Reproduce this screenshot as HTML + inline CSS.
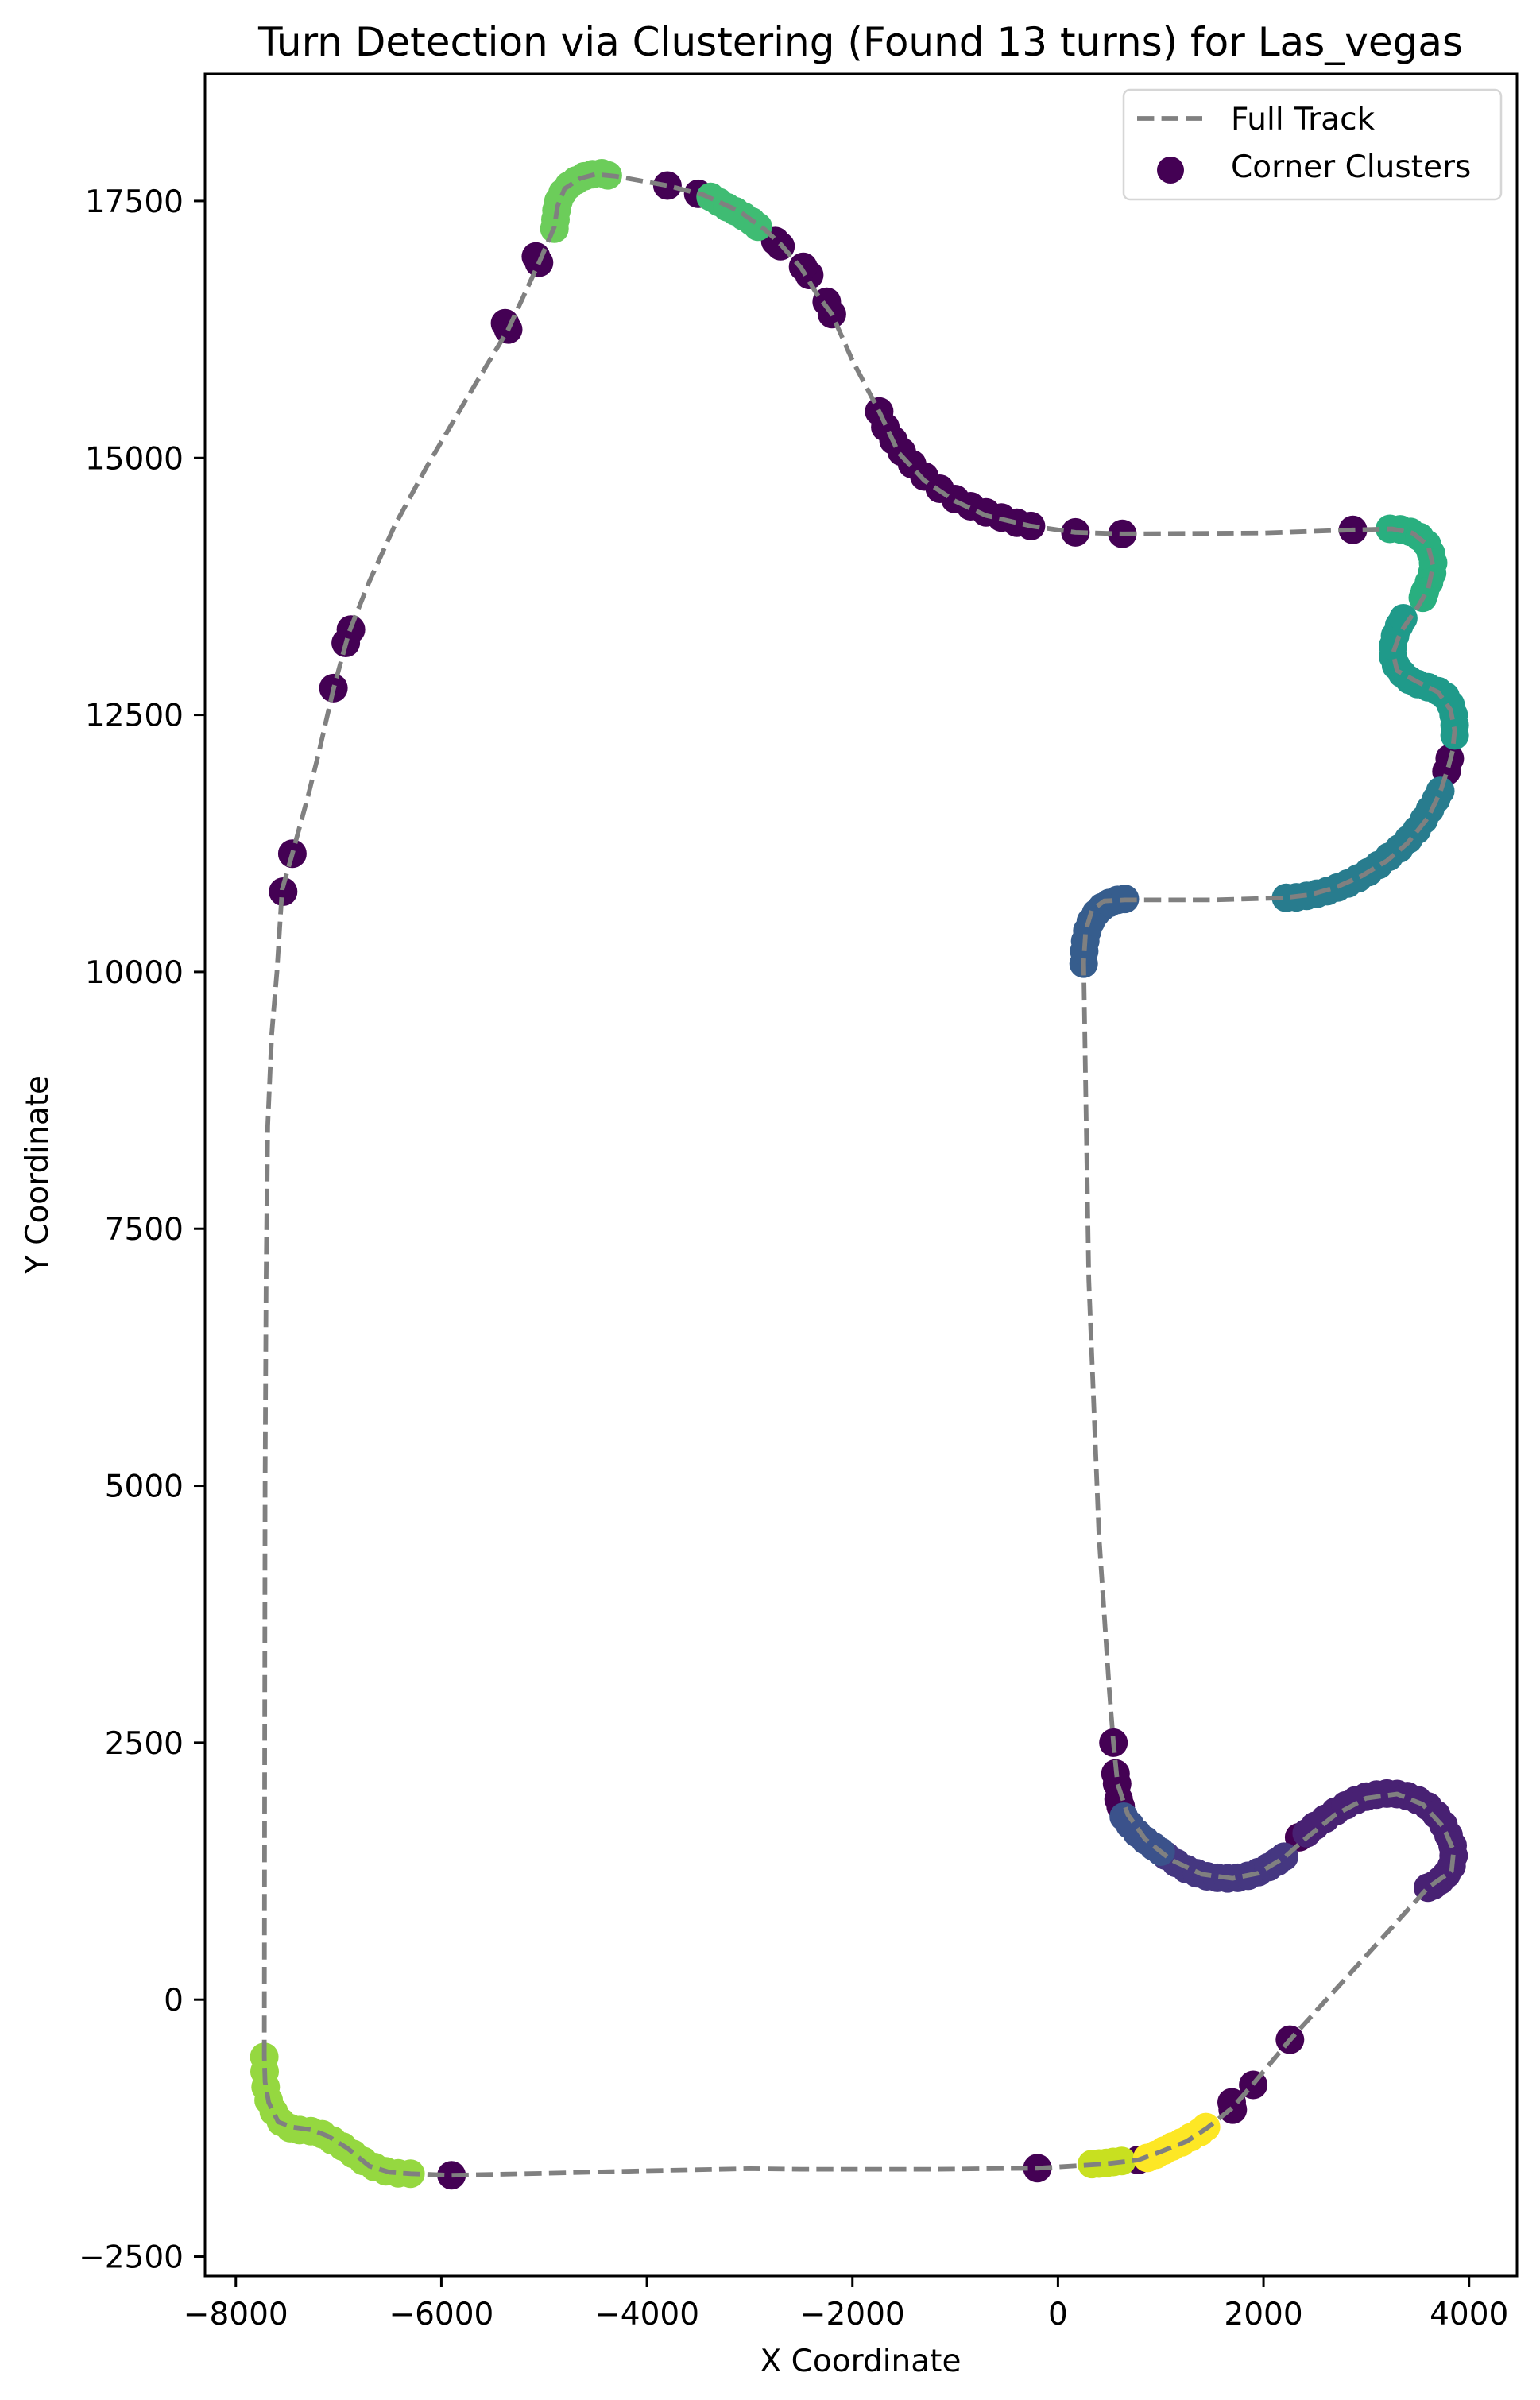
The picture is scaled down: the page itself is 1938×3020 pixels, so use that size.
<!DOCTYPE html>
<html><head><meta charset="utf-8">
<style>
html,body{margin:0;padding:0;background:#fff;}
svg{display:block;font-family:"DejaVu Sans","Liberation Sans",sans-serif;}
</style></head>
<body>
<svg id="chart" width="1938" height="3020" viewBox="0 0 1938 3020" xmlns="http://www.w3.org/2000/svg">
<rect width="1938" height="3020" fill="#fff"/>
<text x="1083" y="70" font-size="50" text-anchor="middle">Turn Detection via Clustering (Found 13 turns) for Las_vegas</text>
<g id="plot"></g>
<rect x="258" y="93" width="1651" height="2771" fill="none" stroke="#000" stroke-width="3"/>
<g id="ticks"></g>
<text x="1083" y="2984" font-size="39" text-anchor="middle">X Coordinate</text>
<text x="60" y="1478" font-size="39" text-anchor="middle" transform="rotate(-90 60 1478)">Y Coordinate</text>
<g>
<rect x="1414" y="113" width="475" height="138" rx="8" fill="#fff" fill-opacity="0.8" stroke="#d6d6d6" stroke-width="2.5"/>
<line x1="1431" y1="149" x2="1513" y2="149" stroke="#808080" stroke-width="5.8" stroke-dasharray="21.4 9.2"/>
<text x="1549" y="163" font-size="39">Full Track</text>
<circle cx="1473" cy="214" r="17" fill="#440154"/>
<text x="1549" y="223" font-size="39">Corner Clusters</text>
</g>
</svg>
<script>
const xTicks = [-8000,-6000,-4000,-2000,0,2000,4000];
const yTicks = [-2500,0,2500,5000,7500,10000,12500,15000,17500];
const trackX = [-7723,-7720,-7715,-7705,-7690,-7650,-7600,-7550,-7450,-7300,-7200,-7050,-6900,-6700,-6450,-6150,-5800,-5350,-5050,-4900,-4870,-4800,-4650,-4500,-4300,-3800,-3450,-3100,-2850,-2700,-2500,-2350,-2200,-2000,-1740,-1550,-1300,-1000,-700,-263,170,626,2000,2870,3250,3450,3600,3650,3600,3500,3330,3260,3300,3500,3700,3820,3860,3840,3800,3720,3600,3400,3200,2950,2700,2450,2200,1500,650,450,330,270,250,300,400,500,540,580,680,850,1100,1400,1700,1950,2200,2400,2700,3000,3300,3550,3750,3850,3830,3700,3600,2250,1900,1700,1450,1250,1000,780,450,-200,-1200,-2500,-3000,-4000,-5000,-5901,-6296,-6500,-6700,-6914,-7100,-7254,-7450,-7587,-7680,-7715,-7723];
const trackY = [-557,2000,5000,7000,8500,9400,10000,10800,11150,11700,12100,12750,13300,13800,14350,14900,15500,16250,16900,17250,17450,17620,17720,17760,17740,17650,17560,17400,17220,17080,16850,16600,16400,15950,15452,15050,14780,14580,14440,14338,14276,14261,14270,14300,14310,14270,14150,13950,13720,13550,13300,13100,12930,12820,12720,12550,12350,12150,12000,11750,11500,11250,11080,10930,10820,10750,10720,10700,10700,10690,10600,10400,10100,7000,4500,3000,2500,2100,1800,1560,1360,1220,1180,1230,1380,1560,1800,1960,2000,1900,1680,1450,1250,1160,1090,-400,-820,-1050,-1250,-1380,-1480,-1560,-1600,-1640,-1650,-1650,-1645,-1665,-1690,-1709,-1694,-1680,-1620,-1446,-1330,-1268,-1240,-1191,-1000,-800,-557];
// cluster labels: -1 = noise
const pointX = [
-5901,-200,780,1690,1700,1900,2257,
2347,540,560,575,590,610,
3812,3780,2870,626,170,-263,-400,-550,-700,-850,-1000,-1150,-1300,-1420,-1520,-1600,-1680,-1740,
-2200,-2250,-2420,-2480,-2700,-2750,-3500,-3800,
-5050,-5080,-5350,-5380,-6880,-6930,-7050,-7450,-7540,
2420,2500,2600,2700,2800,2900,3000,3100,3200,3300,3400,3500,3600,3680,3750,3800,3840,3850,3830,3780,3720,3650,3600,
1050,1150,1250,1350,1450,1550,1650,1750,1850,1950,2050,2130,2200,
640,700,770,850,930,1000,
250,255,265,285,320,370,430,500,580,650,
2220,2320,2420,2520,2620,2720,2820,2920,3020,3120,3220,3320,3410,3490,3560,3620,3680,3720,
3860,3860,3850,3820,3770,3700,3600,3500,3420,3350,3290,3260,3260,3280,3320,3360,
3230,3330,3430,3520,3590,3630,3650,3640,3610,3570,3550,
-3380,-3300,-3220,-3140,-3060,-2980,-2920,
-4900,-4890,-4880,-4860,-4820,-4760,-4690,-4610,-4530,-4440,-4380,
-7723,-7720,-7710,-7680,-7630,-7560,-7470,-7380,-7270,-7160,-7060,-6960,-6860,-6760,-6650,-6540,-6420,-6300,
330,400,470,540,620,
870,950,1030,1110,1200,1290,1380,1440];
const pointY = [
-1709,-1640,-1560,-1000,-1070,-830,-390,
1580,2500,2200,2100,1950,1880,
12075,11950,14300,14261,14276,14338,14370,14420,14470,14530,14600,14700,14820,14940,15060,15170,15300,15452,
16400,16520,16780,16860,17060,17110,17570,17650,
16900,16960,16250,16310,13330,13200,12760,11150,10780,
1620,1690,1760,1830,1890,1940,1975,1995,2005,2000,1980,1940,1880,1800,1700,1600,1500,1400,1300,1220,1160,1110,1090,
1400,1330,1270,1230,1200,1185,1180,1185,1205,1240,1290,1340,1390,
1780,1700,1620,1550,1490,1440,
10080,10200,10300,10400,10490,10570,10630,10670,10700,10710,
10720,10725,10740,10760,10785,10820,10860,10910,10970,11040,11120,11200,11290,11380,11480,11580,11680,11760,
12300,12400,12500,12600,12680,12730,12770,12800,12840,12900,12980,13070,13170,13270,13370,13440,
14310,14305,14280,14230,14160,14070,13980,13880,13790,13700,13640,
17540,17490,17440,17400,17350,17300,17250,
17230,17320,17410,17500,17580,17650,17700,17740,17760,17770,17750,
-557,-700,-850,-980,-1090,-1190,-1250,-1270,-1280,-1310,-1370,-1430,-1500,-1570,-1630,-1670,-1690,-1694,
-1600,-1595,-1590,-1580,-1570,
-1540,-1510,-1470,-1430,-1390,-1340,-1290,-1240];
const pointLabel = [
-1,-1,-1,-1,-1,-1,-1,
-1,-1,-1,-1,-1,-1,
-1,-1,-1,-1,-1,-1,-1,-1,-1,-1,-1,-1,-1,-1,-1,-1,-1,-1,
-1,-1,-1,-1,-1,-1,-1,-1,
-1,-1,-1,-1,-1,-1,-1,-1,-1,
0,0,0,0,0,0,0,0,0,0,0,0,0,0,0,0,0,0,0,0,0,0,0,
1,1,1,1,1,1,1,1,1,1,1,1,1,
2,2,2,2,2,2,
3,3,3,3,3,3,3,3,3,3,
4,4,4,4,4,4,4,4,4,4,4,4,4,4,4,4,4,4,
5,5,5,5,5,5,5,5,5,5,5,5,5,5,5,5,
6,6,6,6,6,6,6,6,6,6,6,
7,7,7,7,7,7,7,
8,8,8,8,8,8,8,8,8,8,8,
9,9,9,9,9,9,9,9,9,9,9,9,9,9,9,9,9,9,
10,10,10,10,10,
11,11,11,11,11,11,11,11];
const clusterColors = ["#482173","#453781","#3b528b","#365d8d","#287c8e","#1f9a8a","#29af7f","#3fbc73","#6ccd5a","#95d840","#c8e020","#fde725"];

const X0 = 1331.4, SX = 0.12933, Y0 = 2516.2, SY = 0.12933;
function xs(v){ return X0 + v*SX; }
function ys(v){ return Y0 - v*SY; }
const NS = "http://www.w3.org/2000/svg";
const plot = document.getElementById('plot');
const ticks = document.getElementById('ticks');

const clip = document.createElementNS(NS,'clipPath');
clip.setAttribute('id','clipAx');
const cr = document.createElementNS(NS,'rect');
cr.setAttribute('x',258);cr.setAttribute('y',93);cr.setAttribute('width',1651);cr.setAttribute('height',2771);
clip.appendChild(cr); plot.appendChild(clip);
plot.setAttribute('clip-path','url(#clipAx)');

let d = '';
for (let i=0;i<trackX.length;i++){ d += (i?'L':'M') + xs(trackX[i]).toFixed(1) + ' ' + ys(trackY[i]).toFixed(1); }
const path = document.createElementNS(NS,'path');


path.setAttribute('d', d);
path.setAttribute('fill','none');
path.setAttribute('stroke','#808080');
path.setAttribute('stroke-width','5.8');
path.setAttribute('stroke-linejoin','round');
path.setAttribute('stroke-dasharray','21.4 9.2');

for (let i=0;i<pointX.length;i++){
  const c = document.createElementNS(NS,'circle');
  
  
  c.setAttribute('cx', xs(pointX[i]).toFixed(1));
  c.setAttribute('cy', ys(pointY[i]).toFixed(1));
  c.setAttribute('r', '18');
  const lab = pointLabel[i];
  c.setAttribute('fill', lab < 0 ? '#440154' : clusterColors[lab]);
  plot.appendChild(c);
}
plot.appendChild(path);

for (const t of xTicks){
  const x = xs(t);
  const l = document.createElementNS(NS,'line');
  
  
  l.setAttribute('x1',x);l.setAttribute('x2',x);l.setAttribute('y1',2864);l.setAttribute('y2',2878);
  l.setAttribute('stroke','#000');l.setAttribute('stroke-width','3');
  ticks.appendChild(l);
  const tx = document.createElementNS(NS,'text');
  
  
  tx.setAttribute('x',x);tx.setAttribute('y',2925);
  tx.setAttribute('font-size','39');tx.setAttribute('text-anchor','middle');
  tx.textContent = (t<0?'\u2212':'') + Math.abs(t);
  ticks.appendChild(tx);
}
for (const t of yTicks){
  const y = ys(t);
  const l = document.createElementNS(NS,'line');
  
  
  l.setAttribute('x1',244);l.setAttribute('x2',258);l.setAttribute('y1',y);l.setAttribute('y2',y);
  l.setAttribute('stroke','#000');l.setAttribute('stroke-width','3');
  ticks.appendChild(l);
  const tx = document.createElementNS(NS,'text');
  
  
  tx.setAttribute('x',231);tx.setAttribute('y',y+14);
  tx.setAttribute('font-size','39');tx.setAttribute('text-anchor','end');
  tx.textContent = (t<0?'\u2212':'') + Math.abs(t);
  ticks.appendChild(tx);
}
</script>
</body></html>
